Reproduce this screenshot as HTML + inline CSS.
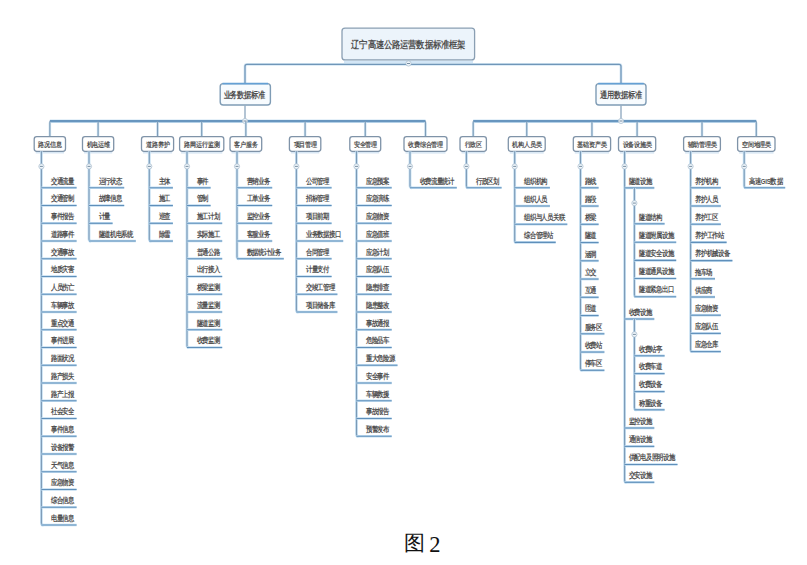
<!DOCTYPE html>
<html><head><meta charset="utf-8"><style>
html,body{margin:0;padding:0;background:#fff;width:807px;height:565px;overflow:hidden}
svg{position:absolute;left:0;top:0;font-family:"Liberation Sans",sans-serif}
.cap{position:absolute;left:0;top:0;font-family:"Liberation Serif",serif}
</style></head><body>
<svg width="807" height="565" viewBox="0 0 807 565">
<line x1="344" y1="62" x2="473" y2="62" stroke="#d3e6f6" stroke-width="3"/>
<rect x="342" y="28.1" width="132.6" height="31.8" rx="3" fill="#ecf4fb" stroke="#8a9fb3" stroke-width="1.3"/>
<g transform="translate(351.25,47.90) scale(1,1.2)"><text x="0" y="0" font-size="8" fill="#505050" font-weight="bold" textLength="114.10" lengthAdjust="spacing">辽宁高速公路运营数据标准框架</text></g>
<path d="M245,83 V66.4 Q245,64.4 247,64.4 H619 Q621,64.4 621,66.4 V83" fill="none" stroke="#d5e7f5" stroke-width="2.8"/>
<path d="M245,83 V66.4 Q245,64.4 247,64.4 H619 Q621,64.4 621,66.4 V83" fill="none" stroke="#7096b8" stroke-width="1.3"/>
<circle cx="408.5" cy="63.5" r="2.6" fill="#eef5fb" stroke="#a9bccc" stroke-width="0.7"/>
<line x1="407.0" y1="63.5" x2="410.0" y2="63.5" stroke="#6d8599" stroke-width="0.9"/>
<rect x="220.2" y="83.6" width="50.2" height="21.4" rx="3" fill="#f7fbfe" stroke="#7f9cb5" stroke-width="1.4"/>
<line x1="222.5" y1="83.6" x2="268" y2="83.6" stroke="#64a0d4" stroke-width="1.9"/>
<g transform="translate(223.50,97.90) scale(1,1.25)"><text x="0" y="0" font-size="7" fill="#505050" font-weight="bold" textLength="42.00" lengthAdjust="spacing">业务数据标准</text></g>
<rect x="596" y="83.6" width="50" height="21.4" rx="3" fill="#f7fbfe" stroke="#7f9cb5" stroke-width="1.4"/>
<line x1="598.3" y1="83.6" x2="643.7" y2="83.6" stroke="#64a0d4" stroke-width="1.9"/>
<g transform="translate(600.00,97.90) scale(1,1.25)"><text x="0" y="0" font-size="7" fill="#505050" font-weight="bold" textLength="42.00" lengthAdjust="spacing">通用数据标准</text></g>
<line x1="49.85" y1="121.2" x2="425.5" y2="121.2" stroke="#cde3f4" stroke-width="3.6"/>
<line x1="49.85" y1="121.2" x2="425.5" y2="121.2" stroke="#6896bf" stroke-width="2.2"/>
<line x1="473.2" y1="121.2" x2="756.3" y2="121.2" stroke="#cde3f4" stroke-width="3.6"/>
<line x1="473.2" y1="121.2" x2="756.3" y2="121.2" stroke="#6896bf" stroke-width="2.2"/>
<line x1="245" y1="105.5" x2="245" y2="121.2" stroke="#8aa5bd" stroke-width="1.3"/>
<line x1="621" y1="105.5" x2="621" y2="121.2" stroke="#8aa5bd" stroke-width="1.3"/>
<circle cx="245" cy="121" r="2.6" fill="#eef5fb" stroke="#a9bccc" stroke-width="0.7"/>
<line x1="243.5" y1="121" x2="246.5" y2="121" stroke="#6d8599" stroke-width="0.9"/>
<circle cx="621" cy="121" r="2.6" fill="#eef5fb" stroke="#a9bccc" stroke-width="0.7"/>
<line x1="619.5" y1="121" x2="622.5" y2="121" stroke="#6d8599" stroke-width="0.9"/>
<line x1="49.85" y1="122.4" x2="49.85" y2="136.7" stroke="#d3e6f4" stroke-width="2.6"/>
<line x1="49.85" y1="121.2" x2="49.85" y2="136.7" stroke="#7d9db9" stroke-width="1.2"/>
<line x1="35.7" y1="152.8" x2="64.0" y2="152.8" stroke="#cfe2f2" stroke-width="1.2"/>
<rect x="34.2" y="136.7" width="31.299999999999997" height="14.600000000000023" rx="2.5" fill="#ffffff" stroke="#7f93a8" stroke-width="1.3"/>
<g transform="translate(38.25,146.60) scale(1,1.15)"><text x="0" y="0" font-size="6" fill="#505050" font-weight="bold" textLength="23.20" lengthAdjust="spacing">路况信息</text></g>
<path d="M41.4,151.3 V523.05 Q41.4,525.05 43.4,525.05" fill="none" stroke="#c6e0f3" stroke-width="2.8"/>
<path d="M41.4,151.3 V523.05 Q41.4,525.05 43.4,525.05" fill="none" stroke="#7b99b5" stroke-width="1.1"/>
<circle cx="41.4" cy="166.4" r="2.6" fill="#eef5fb" stroke="#a9bccc" stroke-width="0.7"/>
<line x1="39.9" y1="166.4" x2="42.9" y2="166.4" stroke="#6d8599" stroke-width="0.9"/>
<g transform="translate(50.90,183.50) scale(1,1.25)"><text x="0" y="0" font-size="6" fill="#505050" font-weight="bold" textLength="23.20" lengthAdjust="spacing">交通流量</text></g>
<line x1="41.4" y1="187.8" x2="76.6" y2="187.8" stroke="#c2ddf1" stroke-width="2.6"/>
<line x1="41.4" y1="187.8" x2="76.6" y2="187.8" stroke="#5f8fba" stroke-width="1.1"/>
<g transform="translate(50.90,201.25) scale(1,1.25)"><text x="0" y="0" font-size="6" fill="#505050" font-weight="bold" textLength="23.20" lengthAdjust="spacing">交通管制</text></g>
<line x1="41.4" y1="205.55" x2="76.6" y2="205.55" stroke="#c2ddf1" stroke-width="2.6"/>
<line x1="41.4" y1="205.55" x2="76.6" y2="205.55" stroke="#5f8fba" stroke-width="1.1"/>
<g transform="translate(50.90,219.00) scale(1,1.25)"><text x="0" y="0" font-size="6" fill="#505050" font-weight="bold" textLength="23.20" lengthAdjust="spacing">事件报告</text></g>
<line x1="41.4" y1="223.3" x2="76.6" y2="223.3" stroke="#c2ddf1" stroke-width="2.6"/>
<line x1="41.4" y1="223.3" x2="76.6" y2="223.3" stroke="#5f8fba" stroke-width="1.1"/>
<g transform="translate(50.90,236.75) scale(1,1.25)"><text x="0" y="0" font-size="6" fill="#505050" font-weight="bold" textLength="23.20" lengthAdjust="spacing">道路事件</text></g>
<line x1="41.4" y1="241.05" x2="76.6" y2="241.05" stroke="#c2ddf1" stroke-width="2.6"/>
<line x1="41.4" y1="241.05" x2="76.6" y2="241.05" stroke="#5f8fba" stroke-width="1.1"/>
<g transform="translate(50.90,254.50) scale(1,1.25)"><text x="0" y="0" font-size="6" fill="#505050" font-weight="bold" textLength="23.20" lengthAdjust="spacing">交通事故</text></g>
<line x1="41.4" y1="258.8" x2="76.6" y2="258.8" stroke="#c2ddf1" stroke-width="2.6"/>
<line x1="41.4" y1="258.8" x2="76.6" y2="258.8" stroke="#5f8fba" stroke-width="1.1"/>
<g transform="translate(50.90,272.25) scale(1,1.25)"><text x="0" y="0" font-size="6" fill="#505050" font-weight="bold" textLength="23.20" lengthAdjust="spacing">地质灾害</text></g>
<line x1="41.4" y1="276.55" x2="76.6" y2="276.55" stroke="#c2ddf1" stroke-width="2.6"/>
<line x1="41.4" y1="276.55" x2="76.6" y2="276.55" stroke="#5f8fba" stroke-width="1.1"/>
<g transform="translate(50.90,290.00) scale(1,1.25)"><text x="0" y="0" font-size="6" fill="#505050" font-weight="bold" textLength="23.20" lengthAdjust="spacing">人员伤亡</text></g>
<line x1="41.4" y1="294.3" x2="76.6" y2="294.3" stroke="#c2ddf1" stroke-width="2.6"/>
<line x1="41.4" y1="294.3" x2="76.6" y2="294.3" stroke="#5f8fba" stroke-width="1.1"/>
<g transform="translate(50.90,307.75) scale(1,1.25)"><text x="0" y="0" font-size="6" fill="#505050" font-weight="bold" textLength="23.20" lengthAdjust="spacing">车辆事故</text></g>
<line x1="41.4" y1="312.05" x2="76.6" y2="312.05" stroke="#c2ddf1" stroke-width="2.6"/>
<line x1="41.4" y1="312.05" x2="76.6" y2="312.05" stroke="#5f8fba" stroke-width="1.1"/>
<g transform="translate(50.90,325.50) scale(1,1.25)"><text x="0" y="0" font-size="6" fill="#505050" font-weight="bold" textLength="23.20" lengthAdjust="spacing">重点交通</text></g>
<line x1="41.4" y1="329.8" x2="76.6" y2="329.8" stroke="#c2ddf1" stroke-width="2.6"/>
<line x1="41.4" y1="329.8" x2="76.6" y2="329.8" stroke="#5f8fba" stroke-width="1.1"/>
<g transform="translate(50.90,343.25) scale(1,1.25)"><text x="0" y="0" font-size="6" fill="#505050" font-weight="bold" textLength="23.20" lengthAdjust="spacing">事件进展</text></g>
<line x1="41.4" y1="347.55" x2="76.6" y2="347.55" stroke="#c2ddf1" stroke-width="2.6"/>
<line x1="41.4" y1="347.55" x2="76.6" y2="347.55" stroke="#5f8fba" stroke-width="1.1"/>
<g transform="translate(50.90,361.00) scale(1,1.25)"><text x="0" y="0" font-size="6" fill="#505050" font-weight="bold" textLength="23.20" lengthAdjust="spacing">路面状况</text></g>
<line x1="41.4" y1="365.3" x2="76.6" y2="365.3" stroke="#c2ddf1" stroke-width="2.6"/>
<line x1="41.4" y1="365.3" x2="76.6" y2="365.3" stroke="#5f8fba" stroke-width="1.1"/>
<g transform="translate(50.90,378.75) scale(1,1.25)"><text x="0" y="0" font-size="6" fill="#505050" font-weight="bold" textLength="23.20" lengthAdjust="spacing">路产损失</text></g>
<line x1="41.4" y1="383.05" x2="76.6" y2="383.05" stroke="#c2ddf1" stroke-width="2.6"/>
<line x1="41.4" y1="383.05" x2="76.6" y2="383.05" stroke="#5f8fba" stroke-width="1.1"/>
<g transform="translate(50.90,396.50) scale(1,1.25)"><text x="0" y="0" font-size="6" fill="#505050" font-weight="bold" textLength="23.20" lengthAdjust="spacing">路产上报</text></g>
<line x1="41.4" y1="400.8" x2="76.6" y2="400.8" stroke="#c2ddf1" stroke-width="2.6"/>
<line x1="41.4" y1="400.8" x2="76.6" y2="400.8" stroke="#5f8fba" stroke-width="1.1"/>
<g transform="translate(50.90,414.25) scale(1,1.25)"><text x="0" y="0" font-size="6" fill="#505050" font-weight="bold" textLength="23.20" lengthAdjust="spacing">社会安全</text></g>
<line x1="41.4" y1="418.55" x2="76.6" y2="418.55" stroke="#c2ddf1" stroke-width="2.6"/>
<line x1="41.4" y1="418.55" x2="76.6" y2="418.55" stroke="#5f8fba" stroke-width="1.1"/>
<g transform="translate(50.90,432.00) scale(1,1.25)"><text x="0" y="0" font-size="6" fill="#505050" font-weight="bold" textLength="23.20" lengthAdjust="spacing">事件信息</text></g>
<line x1="41.4" y1="436.3" x2="76.6" y2="436.3" stroke="#c2ddf1" stroke-width="2.6"/>
<line x1="41.4" y1="436.3" x2="76.6" y2="436.3" stroke="#5f8fba" stroke-width="1.1"/>
<g transform="translate(50.90,449.75) scale(1,1.25)"><text x="0" y="0" font-size="6" fill="#505050" font-weight="bold" textLength="23.20" lengthAdjust="spacing">设备报警</text></g>
<line x1="41.4" y1="454.05" x2="76.6" y2="454.05" stroke="#c2ddf1" stroke-width="2.6"/>
<line x1="41.4" y1="454.05" x2="76.6" y2="454.05" stroke="#5f8fba" stroke-width="1.1"/>
<g transform="translate(50.90,467.50) scale(1,1.25)"><text x="0" y="0" font-size="6" fill="#505050" font-weight="bold" textLength="23.20" lengthAdjust="spacing">天气信息</text></g>
<line x1="41.4" y1="471.8" x2="76.6" y2="471.8" stroke="#c2ddf1" stroke-width="2.6"/>
<line x1="41.4" y1="471.8" x2="76.6" y2="471.8" stroke="#5f8fba" stroke-width="1.1"/>
<g transform="translate(50.90,485.25) scale(1,1.25)"><text x="0" y="0" font-size="6" fill="#505050" font-weight="bold" textLength="23.20" lengthAdjust="spacing">应急物资</text></g>
<line x1="41.4" y1="489.55" x2="76.6" y2="489.55" stroke="#c2ddf1" stroke-width="2.6"/>
<line x1="41.4" y1="489.55" x2="76.6" y2="489.55" stroke="#5f8fba" stroke-width="1.1"/>
<g transform="translate(50.90,503.00) scale(1,1.25)"><text x="0" y="0" font-size="6" fill="#505050" font-weight="bold" textLength="23.20" lengthAdjust="spacing">综合信息</text></g>
<line x1="41.4" y1="507.3" x2="76.6" y2="507.3" stroke="#c2ddf1" stroke-width="2.6"/>
<line x1="41.4" y1="507.3" x2="76.6" y2="507.3" stroke="#5f8fba" stroke-width="1.1"/>
<g transform="translate(50.90,520.75) scale(1,1.25)"><text x="0" y="0" font-size="6" fill="#505050" font-weight="bold" textLength="23.20" lengthAdjust="spacing">电量信息</text></g>
<line x1="41.4" y1="525.05" x2="76.6" y2="525.05" stroke="#c2ddf1" stroke-width="2.6"/>
<line x1="41.4" y1="525.05" x2="76.6" y2="525.05" stroke="#5f8fba" stroke-width="1.1"/>
<line x1="98.1" y1="122.4" x2="98.1" y2="136.7" stroke="#d3e6f4" stroke-width="2.6"/>
<line x1="98.1" y1="121.2" x2="98.1" y2="136.7" stroke="#7d9db9" stroke-width="1.2"/>
<line x1="84.0" y1="152.8" x2="112.2" y2="152.8" stroke="#cfe2f2" stroke-width="1.2"/>
<rect x="82.5" y="136.7" width="31.200000000000003" height="14.600000000000023" rx="2.5" fill="#ffffff" stroke="#7f93a8" stroke-width="1.3"/>
<g transform="translate(86.50,146.60) scale(1,1.15)"><text x="0" y="0" font-size="6" fill="#505050" font-weight="bold" textLength="23.20" lengthAdjust="spacing">机电运维</text></g>
<path d="M89,151.3 V239.05 Q89,241.05 91,241.05" fill="none" stroke="#c6e0f3" stroke-width="2.8"/>
<path d="M89,151.3 V239.05 Q89,241.05 91,241.05" fill="none" stroke="#7b99b5" stroke-width="1.1"/>
<circle cx="89" cy="166.4" r="2.6" fill="#eef5fb" stroke="#a9bccc" stroke-width="0.7"/>
<line x1="87.5" y1="166.4" x2="90.5" y2="166.4" stroke="#6d8599" stroke-width="0.9"/>
<g transform="translate(98.50,183.50) scale(1,1.25)"><text x="0" y="0" font-size="6" fill="#505050" font-weight="bold" textLength="23.20" lengthAdjust="spacing">运行状态</text></g>
<line x1="89" y1="187.8" x2="124.2" y2="187.8" stroke="#c2ddf1" stroke-width="2.6"/>
<line x1="89" y1="187.8" x2="124.2" y2="187.8" stroke="#5f8fba" stroke-width="1.1"/>
<g transform="translate(98.50,201.25) scale(1,1.25)"><text x="0" y="0" font-size="6" fill="#505050" font-weight="bold" textLength="23.20" lengthAdjust="spacing">故障信息</text></g>
<line x1="89" y1="205.55" x2="124.2" y2="205.55" stroke="#c2ddf1" stroke-width="2.6"/>
<line x1="89" y1="205.55" x2="124.2" y2="205.55" stroke="#5f8fba" stroke-width="1.1"/>
<g transform="translate(98.50,219.00) scale(1,1.25)"><text x="0" y="0" font-size="6" fill="#505050" font-weight="bold" textLength="11.60" lengthAdjust="spacing">计量</text></g>
<line x1="89" y1="223.3" x2="112.6" y2="223.3" stroke="#c2ddf1" stroke-width="2.6"/>
<line x1="89" y1="223.3" x2="112.6" y2="223.3" stroke="#5f8fba" stroke-width="1.1"/>
<g transform="translate(98.50,236.75) scale(1,1.25)"><text x="0" y="0" font-size="6" fill="#505050" font-weight="bold" textLength="34.80" lengthAdjust="spacing">隧道机电系统</text></g>
<line x1="89" y1="241.05" x2="135.8" y2="241.05" stroke="#c2ddf1" stroke-width="2.6"/>
<line x1="89" y1="241.05" x2="135.8" y2="241.05" stroke="#5f8fba" stroke-width="1.1"/>
<line x1="157.55" y1="122.4" x2="157.55" y2="136.7" stroke="#d3e6f4" stroke-width="2.6"/>
<line x1="157.55" y1="121.2" x2="157.55" y2="136.7" stroke="#7d9db9" stroke-width="1.2"/>
<line x1="143.0" y1="152.8" x2="172.1" y2="152.8" stroke="#cfe2f2" stroke-width="1.2"/>
<rect x="141.5" y="136.7" width="32.099999999999994" height="14.600000000000023" rx="2.5" fill="#ffffff" stroke="#7f93a8" stroke-width="1.3"/>
<g transform="translate(145.95,146.60) scale(1,1.15)"><text x="0" y="0" font-size="6" fill="#505050" font-weight="bold" textLength="23.20" lengthAdjust="spacing">道路养护</text></g>
<path d="M149.3,151.3 V239.05 Q149.3,241.05 151.3,241.05" fill="none" stroke="#c6e0f3" stroke-width="2.8"/>
<path d="M149.3,151.3 V239.05 Q149.3,241.05 151.3,241.05" fill="none" stroke="#7b99b5" stroke-width="1.1"/>
<circle cx="149.3" cy="166.4" r="2.6" fill="#eef5fb" stroke="#a9bccc" stroke-width="0.7"/>
<line x1="147.8" y1="166.4" x2="150.8" y2="166.4" stroke="#6d8599" stroke-width="0.9"/>
<g transform="translate(158.80,183.50) scale(1,1.25)"><text x="0" y="0" font-size="6" fill="#505050" font-weight="bold" textLength="11.60" lengthAdjust="spacing">主体</text></g>
<line x1="149.3" y1="187.8" x2="172.9" y2="187.8" stroke="#c2ddf1" stroke-width="2.6"/>
<line x1="149.3" y1="187.8" x2="172.9" y2="187.8" stroke="#5f8fba" stroke-width="1.1"/>
<g transform="translate(158.80,201.25) scale(1,1.25)"><text x="0" y="0" font-size="6" fill="#505050" font-weight="bold" textLength="11.60" lengthAdjust="spacing">施工</text></g>
<line x1="149.3" y1="205.55" x2="172.9" y2="205.55" stroke="#c2ddf1" stroke-width="2.6"/>
<line x1="149.3" y1="205.55" x2="172.9" y2="205.55" stroke="#5f8fba" stroke-width="1.1"/>
<g transform="translate(158.80,219.00) scale(1,1.25)"><text x="0" y="0" font-size="6" fill="#505050" font-weight="bold" textLength="11.60" lengthAdjust="spacing">巡查</text></g>
<line x1="149.3" y1="223.3" x2="172.9" y2="223.3" stroke="#c2ddf1" stroke-width="2.6"/>
<line x1="149.3" y1="223.3" x2="172.9" y2="223.3" stroke="#5f8fba" stroke-width="1.1"/>
<g transform="translate(158.80,236.75) scale(1,1.25)"><text x="0" y="0" font-size="6" fill="#505050" font-weight="bold" textLength="11.60" lengthAdjust="spacing">除雪</text></g>
<line x1="149.3" y1="241.05" x2="172.9" y2="241.05" stroke="#c2ddf1" stroke-width="2.6"/>
<line x1="149.3" y1="241.05" x2="172.9" y2="241.05" stroke="#5f8fba" stroke-width="1.1"/>
<line x1="201.7" y1="122.4" x2="201.7" y2="136.7" stroke="#d3e6f4" stroke-width="2.6"/>
<line x1="201.7" y1="121.2" x2="201.7" y2="136.7" stroke="#7d9db9" stroke-width="1.2"/>
<line x1="181.1" y1="152.8" x2="222.3" y2="152.8" stroke="#cfe2f2" stroke-width="1.2"/>
<rect x="179.6" y="136.7" width="44.20000000000002" height="14.600000000000023" rx="2.5" fill="#ffffff" stroke="#7f93a8" stroke-width="1.3"/>
<g transform="translate(184.30,146.60) scale(1,1.15)"><text x="0" y="0" font-size="6" fill="#505050" font-weight="bold" textLength="34.80" lengthAdjust="spacing">路网运行监测</text></g>
<path d="M187,151.3 V345.55 Q187,347.55 189,347.55" fill="none" stroke="#c6e0f3" stroke-width="2.8"/>
<path d="M187,151.3 V345.55 Q187,347.55 189,347.55" fill="none" stroke="#7b99b5" stroke-width="1.1"/>
<circle cx="187" cy="166.4" r="2.6" fill="#eef5fb" stroke="#a9bccc" stroke-width="0.7"/>
<line x1="185.5" y1="166.4" x2="188.5" y2="166.4" stroke="#6d8599" stroke-width="0.9"/>
<g transform="translate(196.50,183.50) scale(1,1.25)"><text x="0" y="0" font-size="6" fill="#505050" font-weight="bold" textLength="11.60" lengthAdjust="spacing">事件</text></g>
<line x1="187" y1="187.8" x2="210.6" y2="187.8" stroke="#c2ddf1" stroke-width="2.6"/>
<line x1="187" y1="187.8" x2="210.6" y2="187.8" stroke="#5f8fba" stroke-width="1.1"/>
<g transform="translate(196.50,201.25) scale(1,1.25)"><text x="0" y="0" font-size="6" fill="#505050" font-weight="bold" textLength="11.60" lengthAdjust="spacing">管制</text></g>
<line x1="187" y1="205.55" x2="210.6" y2="205.55" stroke="#c2ddf1" stroke-width="2.6"/>
<line x1="187" y1="205.55" x2="210.6" y2="205.55" stroke="#5f8fba" stroke-width="1.1"/>
<g transform="translate(196.50,219.00) scale(1,1.25)"><text x="0" y="0" font-size="6" fill="#505050" font-weight="bold" textLength="23.20" lengthAdjust="spacing">施工计划</text></g>
<line x1="187" y1="223.3" x2="222.2" y2="223.3" stroke="#c2ddf1" stroke-width="2.6"/>
<line x1="187" y1="223.3" x2="222.2" y2="223.3" stroke="#5f8fba" stroke-width="1.1"/>
<g transform="translate(196.50,236.75) scale(1,1.25)"><text x="0" y="0" font-size="6" fill="#505050" font-weight="bold" textLength="23.20" lengthAdjust="spacing">实际施工</text></g>
<line x1="187" y1="241.05" x2="222.2" y2="241.05" stroke="#c2ddf1" stroke-width="2.6"/>
<line x1="187" y1="241.05" x2="222.2" y2="241.05" stroke="#5f8fba" stroke-width="1.1"/>
<g transform="translate(196.50,254.50) scale(1,1.25)"><text x="0" y="0" font-size="6" fill="#505050" font-weight="bold" textLength="23.20" lengthAdjust="spacing">普通公路</text></g>
<line x1="187" y1="258.8" x2="222.2" y2="258.8" stroke="#c2ddf1" stroke-width="2.6"/>
<line x1="187" y1="258.8" x2="222.2" y2="258.8" stroke="#5f8fba" stroke-width="1.1"/>
<g transform="translate(196.50,272.25) scale(1,1.25)"><text x="0" y="0" font-size="6" fill="#505050" font-weight="bold" textLength="23.20" lengthAdjust="spacing">出行接入</text></g>
<line x1="187" y1="276.55" x2="222.2" y2="276.55" stroke="#c2ddf1" stroke-width="2.6"/>
<line x1="187" y1="276.55" x2="222.2" y2="276.55" stroke="#5f8fba" stroke-width="1.1"/>
<g transform="translate(196.50,290.00) scale(1,1.25)"><text x="0" y="0" font-size="6" fill="#505050" font-weight="bold" textLength="23.20" lengthAdjust="spacing">桥梁监测</text></g>
<line x1="187" y1="294.3" x2="222.2" y2="294.3" stroke="#c2ddf1" stroke-width="2.6"/>
<line x1="187" y1="294.3" x2="222.2" y2="294.3" stroke="#5f8fba" stroke-width="1.1"/>
<g transform="translate(196.50,307.75) scale(1,1.25)"><text x="0" y="0" font-size="6" fill="#505050" font-weight="bold" textLength="23.20" lengthAdjust="spacing">流量监测</text></g>
<line x1="187" y1="312.05" x2="222.2" y2="312.05" stroke="#c2ddf1" stroke-width="2.6"/>
<line x1="187" y1="312.05" x2="222.2" y2="312.05" stroke="#5f8fba" stroke-width="1.1"/>
<g transform="translate(196.50,325.50) scale(1,1.25)"><text x="0" y="0" font-size="6" fill="#505050" font-weight="bold" textLength="23.20" lengthAdjust="spacing">隧道监测</text></g>
<line x1="187" y1="329.8" x2="222.2" y2="329.8" stroke="#c2ddf1" stroke-width="2.6"/>
<line x1="187" y1="329.8" x2="222.2" y2="329.8" stroke="#5f8fba" stroke-width="1.1"/>
<g transform="translate(196.50,343.25) scale(1,1.25)"><text x="0" y="0" font-size="6" fill="#505050" font-weight="bold" textLength="23.20" lengthAdjust="spacing">收费监测</text></g>
<line x1="187" y1="347.55" x2="222.2" y2="347.55" stroke="#c2ddf1" stroke-width="2.6"/>
<line x1="187" y1="347.55" x2="222.2" y2="347.55" stroke="#5f8fba" stroke-width="1.1"/>
<line x1="245.85" y1="122.4" x2="245.85" y2="136.7" stroke="#d3e6f4" stroke-width="2.6"/>
<line x1="245.85" y1="121.2" x2="245.85" y2="136.7" stroke="#7d9db9" stroke-width="1.2"/>
<line x1="231.5" y1="152.8" x2="260.2" y2="152.8" stroke="#cfe2f2" stroke-width="1.2"/>
<rect x="230" y="136.7" width="31.69999999999999" height="14.600000000000023" rx="2.5" fill="#ffffff" stroke="#7f93a8" stroke-width="1.3"/>
<g transform="translate(234.25,146.60) scale(1,1.15)"><text x="0" y="0" font-size="6" fill="#505050" font-weight="bold" textLength="23.20" lengthAdjust="spacing">客户服务</text></g>
<path d="M237,151.3 V256.8 Q237,258.8 239,258.8" fill="none" stroke="#c6e0f3" stroke-width="2.8"/>
<path d="M237,151.3 V256.8 Q237,258.8 239,258.8" fill="none" stroke="#7b99b5" stroke-width="1.1"/>
<circle cx="237" cy="166.4" r="2.6" fill="#eef5fb" stroke="#a9bccc" stroke-width="0.7"/>
<line x1="235.5" y1="166.4" x2="238.5" y2="166.4" stroke="#6d8599" stroke-width="0.9"/>
<g transform="translate(246.50,183.50) scale(1,1.25)"><text x="0" y="0" font-size="6" fill="#505050" font-weight="bold" textLength="23.20" lengthAdjust="spacing">营销业务</text></g>
<line x1="237" y1="187.8" x2="272.2" y2="187.8" stroke="#c2ddf1" stroke-width="2.6"/>
<line x1="237" y1="187.8" x2="272.2" y2="187.8" stroke="#5f8fba" stroke-width="1.1"/>
<g transform="translate(246.50,201.25) scale(1,1.25)"><text x="0" y="0" font-size="6" fill="#505050" font-weight="bold" textLength="23.20" lengthAdjust="spacing">工单业务</text></g>
<line x1="237" y1="205.55" x2="272.2" y2="205.55" stroke="#c2ddf1" stroke-width="2.6"/>
<line x1="237" y1="205.55" x2="272.2" y2="205.55" stroke="#5f8fba" stroke-width="1.1"/>
<g transform="translate(246.50,219.00) scale(1,1.25)"><text x="0" y="0" font-size="6" fill="#505050" font-weight="bold" textLength="23.20" lengthAdjust="spacing">监控业务</text></g>
<line x1="237" y1="223.3" x2="272.2" y2="223.3" stroke="#c2ddf1" stroke-width="2.6"/>
<line x1="237" y1="223.3" x2="272.2" y2="223.3" stroke="#5f8fba" stroke-width="1.1"/>
<g transform="translate(246.50,236.75) scale(1,1.25)"><text x="0" y="0" font-size="6" fill="#505050" font-weight="bold" textLength="23.20" lengthAdjust="spacing">客服业务</text></g>
<line x1="237" y1="241.05" x2="272.2" y2="241.05" stroke="#c2ddf1" stroke-width="2.6"/>
<line x1="237" y1="241.05" x2="272.2" y2="241.05" stroke="#5f8fba" stroke-width="1.1"/>
<g transform="translate(246.50,254.50) scale(1,1.25)"><text x="0" y="0" font-size="6" fill="#505050" font-weight="bold" textLength="34.80" lengthAdjust="spacing">数据统计业务</text></g>
<line x1="237" y1="258.8" x2="283.8" y2="258.8" stroke="#c2ddf1" stroke-width="2.6"/>
<line x1="237" y1="258.8" x2="283.8" y2="258.8" stroke="#5f8fba" stroke-width="1.1"/>
<line x1="305.1" y1="122.4" x2="305.1" y2="136.7" stroke="#d3e6f4" stroke-width="2.6"/>
<line x1="305.1" y1="121.2" x2="305.1" y2="136.7" stroke="#7d9db9" stroke-width="1.2"/>
<line x1="290.9" y1="152.8" x2="319.3" y2="152.8" stroke="#cfe2f2" stroke-width="1.2"/>
<rect x="289.4" y="136.7" width="31.400000000000034" height="14.600000000000023" rx="2.5" fill="#ffffff" stroke="#7f93a8" stroke-width="1.3"/>
<g transform="translate(293.50,146.60) scale(1,1.15)"><text x="0" y="0" font-size="6" fill="#505050" font-weight="bold" textLength="23.20" lengthAdjust="spacing">项目管理</text></g>
<path d="M296.4,151.3 V310.05 Q296.4,312.05 298.4,312.05" fill="none" stroke="#c6e0f3" stroke-width="2.8"/>
<path d="M296.4,151.3 V310.05 Q296.4,312.05 298.4,312.05" fill="none" stroke="#7b99b5" stroke-width="1.1"/>
<circle cx="296.4" cy="166.4" r="2.6" fill="#eef5fb" stroke="#a9bccc" stroke-width="0.7"/>
<line x1="294.9" y1="166.4" x2="297.9" y2="166.4" stroke="#6d8599" stroke-width="0.9"/>
<g transform="translate(305.90,183.50) scale(1,1.25)"><text x="0" y="0" font-size="6" fill="#505050" font-weight="bold" textLength="23.20" lengthAdjust="spacing">公司管理</text></g>
<line x1="296.4" y1="187.8" x2="331.59999999999997" y2="187.8" stroke="#c2ddf1" stroke-width="2.6"/>
<line x1="296.4" y1="187.8" x2="331.59999999999997" y2="187.8" stroke="#5f8fba" stroke-width="1.1"/>
<g transform="translate(305.90,201.25) scale(1,1.25)"><text x="0" y="0" font-size="6" fill="#505050" font-weight="bold" textLength="23.20" lengthAdjust="spacing">招标管理</text></g>
<line x1="296.4" y1="205.55" x2="331.59999999999997" y2="205.55" stroke="#c2ddf1" stroke-width="2.6"/>
<line x1="296.4" y1="205.55" x2="331.59999999999997" y2="205.55" stroke="#5f8fba" stroke-width="1.1"/>
<g transform="translate(305.90,219.00) scale(1,1.25)"><text x="0" y="0" font-size="6" fill="#505050" font-weight="bold" textLength="23.20" lengthAdjust="spacing">项目前期</text></g>
<line x1="296.4" y1="223.3" x2="331.59999999999997" y2="223.3" stroke="#c2ddf1" stroke-width="2.6"/>
<line x1="296.4" y1="223.3" x2="331.59999999999997" y2="223.3" stroke="#5f8fba" stroke-width="1.1"/>
<g transform="translate(305.90,236.75) scale(1,1.25)"><text x="0" y="0" font-size="6" fill="#505050" font-weight="bold" textLength="34.80" lengthAdjust="spacing">业务数据接口</text></g>
<line x1="296.4" y1="241.05" x2="343.2" y2="241.05" stroke="#c2ddf1" stroke-width="2.6"/>
<line x1="296.4" y1="241.05" x2="343.2" y2="241.05" stroke="#5f8fba" stroke-width="1.1"/>
<g transform="translate(305.90,254.50) scale(1,1.25)"><text x="0" y="0" font-size="6" fill="#505050" font-weight="bold" textLength="23.20" lengthAdjust="spacing">合同管理</text></g>
<line x1="296.4" y1="258.8" x2="331.59999999999997" y2="258.8" stroke="#c2ddf1" stroke-width="2.6"/>
<line x1="296.4" y1="258.8" x2="331.59999999999997" y2="258.8" stroke="#5f8fba" stroke-width="1.1"/>
<g transform="translate(305.90,272.25) scale(1,1.25)"><text x="0" y="0" font-size="6" fill="#505050" font-weight="bold" textLength="23.20" lengthAdjust="spacing">计量支付</text></g>
<line x1="296.4" y1="276.55" x2="331.59999999999997" y2="276.55" stroke="#c2ddf1" stroke-width="2.6"/>
<line x1="296.4" y1="276.55" x2="331.59999999999997" y2="276.55" stroke="#5f8fba" stroke-width="1.1"/>
<g transform="translate(305.90,290.00) scale(1,1.25)"><text x="0" y="0" font-size="6" fill="#505050" font-weight="bold" textLength="29.00" lengthAdjust="spacing">交竣工管理</text></g>
<line x1="296.4" y1="294.3" x2="337.4" y2="294.3" stroke="#c2ddf1" stroke-width="2.6"/>
<line x1="296.4" y1="294.3" x2="337.4" y2="294.3" stroke="#5f8fba" stroke-width="1.1"/>
<g transform="translate(305.90,307.75) scale(1,1.25)"><text x="0" y="0" font-size="6" fill="#505050" font-weight="bold" textLength="29.00" lengthAdjust="spacing">项目储备库</text></g>
<line x1="296.4" y1="312.05" x2="337.4" y2="312.05" stroke="#c2ddf1" stroke-width="2.6"/>
<line x1="296.4" y1="312.05" x2="337.4" y2="312.05" stroke="#5f8fba" stroke-width="1.1"/>
<line x1="365.25" y1="122.4" x2="365.25" y2="136.7" stroke="#d3e6f4" stroke-width="2.6"/>
<line x1="365.25" y1="121.2" x2="365.25" y2="136.7" stroke="#7d9db9" stroke-width="1.2"/>
<line x1="351.3" y1="152.8" x2="379.2" y2="152.8" stroke="#cfe2f2" stroke-width="1.2"/>
<rect x="349.8" y="136.7" width="30.899999999999977" height="14.600000000000023" rx="2.5" fill="#ffffff" stroke="#7f93a8" stroke-width="1.3"/>
<g transform="translate(353.65,146.60) scale(1,1.15)"><text x="0" y="0" font-size="6" fill="#505050" font-weight="bold" textLength="23.20" lengthAdjust="spacing">安全管理</text></g>
<path d="M356.5,151.3 V434.3 Q356.5,436.3 358.5,436.3" fill="none" stroke="#c6e0f3" stroke-width="2.8"/>
<path d="M356.5,151.3 V434.3 Q356.5,436.3 358.5,436.3" fill="none" stroke="#7b99b5" stroke-width="1.1"/>
<circle cx="356.5" cy="166.4" r="2.6" fill="#eef5fb" stroke="#a9bccc" stroke-width="0.7"/>
<line x1="355.0" y1="166.4" x2="358.0" y2="166.4" stroke="#6d8599" stroke-width="0.9"/>
<g transform="translate(366.00,183.50) scale(1,1.25)"><text x="0" y="0" font-size="6" fill="#505050" font-weight="bold" textLength="23.20" lengthAdjust="spacing">应急预案</text></g>
<line x1="356.5" y1="187.8" x2="391.7" y2="187.8" stroke="#c2ddf1" stroke-width="2.6"/>
<line x1="356.5" y1="187.8" x2="391.7" y2="187.8" stroke="#5f8fba" stroke-width="1.1"/>
<g transform="translate(366.00,201.25) scale(1,1.25)"><text x="0" y="0" font-size="6" fill="#505050" font-weight="bold" textLength="23.20" lengthAdjust="spacing">应急演练</text></g>
<line x1="356.5" y1="205.55" x2="391.7" y2="205.55" stroke="#c2ddf1" stroke-width="2.6"/>
<line x1="356.5" y1="205.55" x2="391.7" y2="205.55" stroke="#5f8fba" stroke-width="1.1"/>
<g transform="translate(366.00,219.00) scale(1,1.25)"><text x="0" y="0" font-size="6" fill="#505050" font-weight="bold" textLength="23.20" lengthAdjust="spacing">应急物资</text></g>
<line x1="356.5" y1="223.3" x2="391.7" y2="223.3" stroke="#c2ddf1" stroke-width="2.6"/>
<line x1="356.5" y1="223.3" x2="391.7" y2="223.3" stroke="#5f8fba" stroke-width="1.1"/>
<g transform="translate(366.00,236.75) scale(1,1.25)"><text x="0" y="0" font-size="6" fill="#505050" font-weight="bold" textLength="23.20" lengthAdjust="spacing">应急值班</text></g>
<line x1="356.5" y1="241.05" x2="391.7" y2="241.05" stroke="#c2ddf1" stroke-width="2.6"/>
<line x1="356.5" y1="241.05" x2="391.7" y2="241.05" stroke="#5f8fba" stroke-width="1.1"/>
<g transform="translate(366.00,254.50) scale(1,1.25)"><text x="0" y="0" font-size="6" fill="#505050" font-weight="bold" textLength="23.20" lengthAdjust="spacing">应急计划</text></g>
<line x1="356.5" y1="258.8" x2="391.7" y2="258.8" stroke="#c2ddf1" stroke-width="2.6"/>
<line x1="356.5" y1="258.8" x2="391.7" y2="258.8" stroke="#5f8fba" stroke-width="1.1"/>
<g transform="translate(366.00,272.25) scale(1,1.25)"><text x="0" y="0" font-size="6" fill="#505050" font-weight="bold" textLength="23.20" lengthAdjust="spacing">应急队伍</text></g>
<line x1="356.5" y1="276.55" x2="391.7" y2="276.55" stroke="#c2ddf1" stroke-width="2.6"/>
<line x1="356.5" y1="276.55" x2="391.7" y2="276.55" stroke="#5f8fba" stroke-width="1.1"/>
<g transform="translate(366.00,290.00) scale(1,1.25)"><text x="0" y="0" font-size="6" fill="#505050" font-weight="bold" textLength="23.20" lengthAdjust="spacing">隐患排查</text></g>
<line x1="356.5" y1="294.3" x2="391.7" y2="294.3" stroke="#c2ddf1" stroke-width="2.6"/>
<line x1="356.5" y1="294.3" x2="391.7" y2="294.3" stroke="#5f8fba" stroke-width="1.1"/>
<g transform="translate(366.00,307.75) scale(1,1.25)"><text x="0" y="0" font-size="6" fill="#505050" font-weight="bold" textLength="23.20" lengthAdjust="spacing">隐患整改</text></g>
<line x1="356.5" y1="312.05" x2="391.7" y2="312.05" stroke="#c2ddf1" stroke-width="2.6"/>
<line x1="356.5" y1="312.05" x2="391.7" y2="312.05" stroke="#5f8fba" stroke-width="1.1"/>
<g transform="translate(366.00,325.50) scale(1,1.25)"><text x="0" y="0" font-size="6" fill="#505050" font-weight="bold" textLength="23.20" lengthAdjust="spacing">事故通报</text></g>
<line x1="356.5" y1="329.8" x2="391.7" y2="329.8" stroke="#c2ddf1" stroke-width="2.6"/>
<line x1="356.5" y1="329.8" x2="391.7" y2="329.8" stroke="#5f8fba" stroke-width="1.1"/>
<g transform="translate(366.00,343.25) scale(1,1.25)"><text x="0" y="0" font-size="6" fill="#505050" font-weight="bold" textLength="23.20" lengthAdjust="spacing">危险品车</text></g>
<line x1="356.5" y1="347.55" x2="391.7" y2="347.55" stroke="#c2ddf1" stroke-width="2.6"/>
<line x1="356.5" y1="347.55" x2="391.7" y2="347.55" stroke="#5f8fba" stroke-width="1.1"/>
<g transform="translate(366.00,361.00) scale(1,1.25)"><text x="0" y="0" font-size="6" fill="#505050" font-weight="bold" textLength="29.00" lengthAdjust="spacing">重大危险源</text></g>
<line x1="356.5" y1="365.3" x2="397.5" y2="365.3" stroke="#c2ddf1" stroke-width="2.6"/>
<line x1="356.5" y1="365.3" x2="397.5" y2="365.3" stroke="#5f8fba" stroke-width="1.1"/>
<g transform="translate(366.00,378.75) scale(1,1.25)"><text x="0" y="0" font-size="6" fill="#505050" font-weight="bold" textLength="23.20" lengthAdjust="spacing">安全事件</text></g>
<line x1="356.5" y1="383.05" x2="391.7" y2="383.05" stroke="#c2ddf1" stroke-width="2.6"/>
<line x1="356.5" y1="383.05" x2="391.7" y2="383.05" stroke="#5f8fba" stroke-width="1.1"/>
<g transform="translate(366.00,396.50) scale(1,1.25)"><text x="0" y="0" font-size="6" fill="#505050" font-weight="bold" textLength="23.20" lengthAdjust="spacing">车辆救援</text></g>
<line x1="356.5" y1="400.8" x2="391.7" y2="400.8" stroke="#c2ddf1" stroke-width="2.6"/>
<line x1="356.5" y1="400.8" x2="391.7" y2="400.8" stroke="#5f8fba" stroke-width="1.1"/>
<g transform="translate(366.00,414.25) scale(1,1.25)"><text x="0" y="0" font-size="6" fill="#505050" font-weight="bold" textLength="23.20" lengthAdjust="spacing">事故报告</text></g>
<line x1="356.5" y1="418.55" x2="391.7" y2="418.55" stroke="#c2ddf1" stroke-width="2.6"/>
<line x1="356.5" y1="418.55" x2="391.7" y2="418.55" stroke="#5f8fba" stroke-width="1.1"/>
<g transform="translate(366.00,432.00) scale(1,1.25)"><text x="0" y="0" font-size="6" fill="#505050" font-weight="bold" textLength="23.20" lengthAdjust="spacing">预警发布</text></g>
<line x1="356.5" y1="436.3" x2="391.7" y2="436.3" stroke="#c2ddf1" stroke-width="2.6"/>
<line x1="356.5" y1="436.3" x2="391.7" y2="436.3" stroke="#5f8fba" stroke-width="1.1"/>
<line x1="425.5" y1="122.4" x2="425.5" y2="136.7" stroke="#d3e6f4" stroke-width="2.6"/>
<line x1="425.5" y1="121.2" x2="425.5" y2="136.7" stroke="#7d9db9" stroke-width="1.2"/>
<line x1="405.5" y1="152.8" x2="445.5" y2="152.8" stroke="#cfe2f2" stroke-width="1.2"/>
<rect x="404" y="136.7" width="43" height="14.600000000000023" rx="2.5" fill="#ffffff" stroke="#7f93a8" stroke-width="1.3"/>
<g transform="translate(408.10,146.60) scale(1,1.15)"><text x="0" y="0" font-size="6" fill="#505050" font-weight="bold" textLength="34.80" lengthAdjust="spacing">收费综合管理</text></g>
<path d="M410,151.3 V185.8 Q410,187.8 412,187.8" fill="none" stroke="#c6e0f3" stroke-width="2.8"/>
<path d="M410,151.3 V185.8 Q410,187.8 412,187.8" fill="none" stroke="#7b99b5" stroke-width="1.1"/>
<circle cx="410" cy="166.4" r="2.6" fill="#eef5fb" stroke="#a9bccc" stroke-width="0.7"/>
<line x1="408.5" y1="166.4" x2="411.5" y2="166.4" stroke="#6d8599" stroke-width="0.9"/>
<g transform="translate(419.50,183.50) scale(1,1.25)"><text x="0" y="0" font-size="6" fill="#505050" font-weight="bold" textLength="34.80" lengthAdjust="spacing">收费流量统计</text></g>
<line x1="410" y1="187.8" x2="456.8" y2="187.8" stroke="#c2ddf1" stroke-width="2.6"/>
<line x1="410" y1="187.8" x2="456.8" y2="187.8" stroke="#5f8fba" stroke-width="1.1"/>
<line x1="473.2" y1="122.4" x2="473.2" y2="136.7" stroke="#d3e6f4" stroke-width="2.6"/>
<line x1="473.2" y1="121.2" x2="473.2" y2="136.7" stroke="#7d9db9" stroke-width="1.2"/>
<line x1="461.5" y1="152.8" x2="484.9" y2="152.8" stroke="#cfe2f2" stroke-width="1.2"/>
<rect x="460" y="136.7" width="26.399999999999977" height="14.600000000000023" rx="2.5" fill="#ffffff" stroke="#7f93a8" stroke-width="1.3"/>
<g transform="translate(464.50,146.60) scale(1,1.15)"><text x="0" y="0" font-size="6" fill="#505050" font-weight="bold" textLength="17.40" lengthAdjust="spacing">行政区</text></g>
<path d="M466.4,151.3 V185.8 Q466.4,187.8 468.4,187.8" fill="none" stroke="#c6e0f3" stroke-width="2.8"/>
<path d="M466.4,151.3 V185.8 Q466.4,187.8 468.4,187.8" fill="none" stroke="#7b99b5" stroke-width="1.1"/>
<circle cx="466.4" cy="166.4" r="2.6" fill="#eef5fb" stroke="#a9bccc" stroke-width="0.7"/>
<line x1="464.9" y1="166.4" x2="467.9" y2="166.4" stroke="#6d8599" stroke-width="0.9"/>
<g transform="translate(475.90,183.50) scale(1,1.25)"><text x="0" y="0" font-size="6" fill="#505050" font-weight="bold" textLength="23.20" lengthAdjust="spacing">行政区划</text></g>
<line x1="466.4" y1="187.8" x2="501.59999999999997" y2="187.8" stroke="#c2ddf1" stroke-width="2.6"/>
<line x1="466.4" y1="187.8" x2="501.59999999999997" y2="187.8" stroke="#5f8fba" stroke-width="1.1"/>
<line x1="526.75" y1="122.4" x2="526.75" y2="136.7" stroke="#d3e6f4" stroke-width="2.6"/>
<line x1="526.75" y1="121.2" x2="526.75" y2="136.7" stroke="#7d9db9" stroke-width="1.2"/>
<line x1="509.8" y1="152.8" x2="543.7" y2="152.8" stroke="#cfe2f2" stroke-width="1.2"/>
<rect x="508.3" y="136.7" width="36.900000000000034" height="14.600000000000023" rx="2.5" fill="#ffffff" stroke="#7f93a8" stroke-width="1.3"/>
<g transform="translate(512.25,146.60) scale(1,1.15)"><text x="0" y="0" font-size="6" fill="#505050" font-weight="bold" textLength="29.00" lengthAdjust="spacing">机构人员类</text></g>
<path d="M514.7,151.3 V240.4 Q514.7,242.4 516.7,242.4" fill="none" stroke="#c6e0f3" stroke-width="2.8"/>
<path d="M514.7,151.3 V240.4 Q514.7,242.4 516.7,242.4" fill="none" stroke="#7b99b5" stroke-width="1.1"/>
<circle cx="514.7" cy="166.4" r="2.6" fill="#eef5fb" stroke="#a9bccc" stroke-width="0.7"/>
<line x1="513.2" y1="166.4" x2="516.2" y2="166.4" stroke="#6d8599" stroke-width="0.9"/>
<g transform="translate(524.20,183.50) scale(1,1.25)"><text x="0" y="0" font-size="6" fill="#505050" font-weight="bold" textLength="23.20" lengthAdjust="spacing">组织机构</text></g>
<line x1="514.7" y1="187.8" x2="549.9000000000001" y2="187.8" stroke="#c2ddf1" stroke-width="2.6"/>
<line x1="514.7" y1="187.8" x2="549.9000000000001" y2="187.8" stroke="#5f8fba" stroke-width="1.1"/>
<g transform="translate(524.20,201.70) scale(1,1.25)"><text x="0" y="0" font-size="6" fill="#505050" font-weight="bold" textLength="23.20" lengthAdjust="spacing">组织人员</text></g>
<line x1="514.7" y1="206.0" x2="549.9000000000001" y2="206.0" stroke="#c2ddf1" stroke-width="2.6"/>
<line x1="514.7" y1="206.0" x2="549.9000000000001" y2="206.0" stroke="#5f8fba" stroke-width="1.1"/>
<g transform="translate(524.20,219.90) scale(1,1.25)"><text x="0" y="0" font-size="6" fill="#505050" font-weight="bold" textLength="40.60" lengthAdjust="spacing">组织与人员关联</text></g>
<line x1="514.7" y1="224.20000000000002" x2="567.3000000000001" y2="224.20000000000002" stroke="#c2ddf1" stroke-width="2.6"/>
<line x1="514.7" y1="224.20000000000002" x2="567.3000000000001" y2="224.20000000000002" stroke="#5f8fba" stroke-width="1.1"/>
<g transform="translate(524.20,238.10) scale(1,1.25)"><text x="0" y="0" font-size="6" fill="#505050" font-weight="bold" textLength="29.00" lengthAdjust="spacing">综合管理站</text></g>
<line x1="514.7" y1="242.4" x2="555.7" y2="242.4" stroke="#c2ddf1" stroke-width="2.6"/>
<line x1="514.7" y1="242.4" x2="555.7" y2="242.4" stroke="#5f8fba" stroke-width="1.1"/>
<line x1="591.95" y1="122.4" x2="591.95" y2="136.7" stroke="#d3e6f4" stroke-width="2.6"/>
<line x1="591.95" y1="121.2" x2="591.95" y2="136.7" stroke="#7d9db9" stroke-width="1.2"/>
<line x1="574.8" y1="152.8" x2="609.1" y2="152.8" stroke="#cfe2f2" stroke-width="1.2"/>
<rect x="573.3" y="136.7" width="37.30000000000007" height="14.600000000000023" rx="2.5" fill="#ffffff" stroke="#7f93a8" stroke-width="1.3"/>
<g transform="translate(577.45,146.60) scale(1,1.15)"><text x="0" y="0" font-size="6" fill="#505050" font-weight="bold" textLength="29.00" lengthAdjust="spacing">基础资产类</text></g>
<path d="M580.5,151.3 V368.3 Q580.5,370.3 582.5,370.3" fill="none" stroke="#c6e0f3" stroke-width="2.8"/>
<path d="M580.5,151.3 V368.3 Q580.5,370.3 582.5,370.3" fill="none" stroke="#7b99b5" stroke-width="1.1"/>
<circle cx="580.5" cy="166.4" r="2.6" fill="#eef5fb" stroke="#a9bccc" stroke-width="0.7"/>
<line x1="579.0" y1="166.4" x2="582.0" y2="166.4" stroke="#6d8599" stroke-width="0.9"/>
<g transform="translate(584.50,183.50) scale(1,1.25)"><text x="0" y="0" font-size="6" fill="#505050" font-weight="bold" textLength="11.60" lengthAdjust="spacing">路线</text></g>
<line x1="580.5" y1="187.8" x2="598.6" y2="187.8" stroke="#c2ddf1" stroke-width="2.6"/>
<line x1="580.5" y1="187.8" x2="598.6" y2="187.8" stroke="#5f8fba" stroke-width="1.1"/>
<g transform="translate(584.50,201.75) scale(1,1.25)"><text x="0" y="0" font-size="6" fill="#505050" font-weight="bold" textLength="11.60" lengthAdjust="spacing">路段</text></g>
<line x1="580.5" y1="206.05" x2="598.6" y2="206.05" stroke="#c2ddf1" stroke-width="2.6"/>
<line x1="580.5" y1="206.05" x2="598.6" y2="206.05" stroke="#5f8fba" stroke-width="1.1"/>
<g transform="translate(584.50,220.00) scale(1,1.25)"><text x="0" y="0" font-size="6" fill="#505050" font-weight="bold" textLength="11.60" lengthAdjust="spacing">桥梁</text></g>
<line x1="580.5" y1="224.3" x2="598.6" y2="224.3" stroke="#c2ddf1" stroke-width="2.6"/>
<line x1="580.5" y1="224.3" x2="598.6" y2="224.3" stroke="#5f8fba" stroke-width="1.1"/>
<g transform="translate(584.50,238.25) scale(1,1.25)"><text x="0" y="0" font-size="6" fill="#505050" font-weight="bold" textLength="11.60" lengthAdjust="spacing">隧道</text></g>
<line x1="580.5" y1="242.55" x2="598.6" y2="242.55" stroke="#c2ddf1" stroke-width="2.6"/>
<line x1="580.5" y1="242.55" x2="598.6" y2="242.55" stroke="#5f8fba" stroke-width="1.1"/>
<g transform="translate(584.50,256.50) scale(1,1.25)"><text x="0" y="0" font-size="6" fill="#505050" font-weight="bold" textLength="11.60" lengthAdjust="spacing">涵洞</text></g>
<line x1="580.5" y1="260.8" x2="598.6" y2="260.8" stroke="#c2ddf1" stroke-width="2.6"/>
<line x1="580.5" y1="260.8" x2="598.6" y2="260.8" stroke="#5f8fba" stroke-width="1.1"/>
<g transform="translate(584.50,274.75) scale(1,1.25)"><text x="0" y="0" font-size="6" fill="#505050" font-weight="bold" textLength="11.60" lengthAdjust="spacing">立交</text></g>
<line x1="580.5" y1="279.05" x2="598.6" y2="279.05" stroke="#c2ddf1" stroke-width="2.6"/>
<line x1="580.5" y1="279.05" x2="598.6" y2="279.05" stroke="#5f8fba" stroke-width="1.1"/>
<g transform="translate(584.50,293.00) scale(1,1.25)"><text x="0" y="0" font-size="6" fill="#505050" font-weight="bold" textLength="11.60" lengthAdjust="spacing">互通</text></g>
<line x1="580.5" y1="297.3" x2="598.6" y2="297.3" stroke="#c2ddf1" stroke-width="2.6"/>
<line x1="580.5" y1="297.3" x2="598.6" y2="297.3" stroke="#5f8fba" stroke-width="1.1"/>
<g transform="translate(584.50,311.25) scale(1,1.25)"><text x="0" y="0" font-size="6" fill="#505050" font-weight="bold" textLength="11.60" lengthAdjust="spacing">匝道</text></g>
<line x1="580.5" y1="315.55" x2="598.6" y2="315.55" stroke="#c2ddf1" stroke-width="2.6"/>
<line x1="580.5" y1="315.55" x2="598.6" y2="315.55" stroke="#5f8fba" stroke-width="1.1"/>
<g transform="translate(584.50,329.50) scale(1,1.25)"><text x="0" y="0" font-size="6" fill="#505050" font-weight="bold" textLength="17.40" lengthAdjust="spacing">服务区</text></g>
<line x1="580.5" y1="333.8" x2="604.4" y2="333.8" stroke="#c2ddf1" stroke-width="2.6"/>
<line x1="580.5" y1="333.8" x2="604.4" y2="333.8" stroke="#5f8fba" stroke-width="1.1"/>
<g transform="translate(584.50,347.75) scale(1,1.25)"><text x="0" y="0" font-size="6" fill="#505050" font-weight="bold" textLength="17.40" lengthAdjust="spacing">收费站</text></g>
<line x1="580.5" y1="352.05" x2="604.4" y2="352.05" stroke="#c2ddf1" stroke-width="2.6"/>
<line x1="580.5" y1="352.05" x2="604.4" y2="352.05" stroke="#5f8fba" stroke-width="1.1"/>
<g transform="translate(584.50,366.00) scale(1,1.25)"><text x="0" y="0" font-size="6" fill="#505050" font-weight="bold" textLength="17.40" lengthAdjust="spacing">停车区</text></g>
<line x1="580.5" y1="370.3" x2="604.4" y2="370.3" stroke="#c2ddf1" stroke-width="2.6"/>
<line x1="580.5" y1="370.3" x2="604.4" y2="370.3" stroke="#5f8fba" stroke-width="1.1"/>
<line x1="637.1" y1="122.4" x2="637.1" y2="136.7" stroke="#d3e6f4" stroke-width="2.6"/>
<line x1="637.1" y1="121.2" x2="637.1" y2="136.7" stroke="#7d9db9" stroke-width="1.2"/>
<line x1="620.0" y1="152.8" x2="654.2" y2="152.8" stroke="#cfe2f2" stroke-width="1.2"/>
<rect x="618.5" y="136.7" width="37.200000000000045" height="14.600000000000023" rx="2.5" fill="#ffffff" stroke="#7f93a8" stroke-width="1.3"/>
<g transform="translate(622.60,146.60) scale(1,1.15)"><text x="0" y="0" font-size="6" fill="#505050" font-weight="bold" textLength="29.00" lengthAdjust="spacing">设备设施类</text></g>
<path d="M624.6,151.3 V480.3 Q624.6,482.3 626.6,482.3" fill="none" stroke="#c6e0f3" stroke-width="2.8"/>
<path d="M624.6,151.3 V480.3 Q624.6,482.3 626.6,482.3" fill="none" stroke="#7b99b5" stroke-width="1.1"/>
<circle cx="624.6" cy="166.4" r="2.6" fill="#eef5fb" stroke="#a9bccc" stroke-width="0.7"/>
<line x1="623.1" y1="166.4" x2="626.1" y2="166.4" stroke="#6d8599" stroke-width="0.9"/>
<g transform="translate(628.60,183.60) scale(1,1.25)"><text x="0" y="0" font-size="6" fill="#505050" font-weight="bold" textLength="23.20" lengthAdjust="spacing">隧道设施</text></g>
<line x1="624.6" y1="187.9" x2="654.3000000000001" y2="187.9" stroke="#c2ddf1" stroke-width="2.6"/>
<line x1="624.6" y1="187.9" x2="654.3000000000001" y2="187.9" stroke="#5f8fba" stroke-width="1.1"/>
<g transform="translate(628.60,314.70) scale(1,1.25)"><text x="0" y="0" font-size="6" fill="#505050" font-weight="bold" textLength="23.20" lengthAdjust="spacing">收费设施</text></g>
<line x1="624.6" y1="319.0" x2="654.3000000000001" y2="319.0" stroke="#c2ddf1" stroke-width="2.6"/>
<line x1="624.6" y1="319.0" x2="654.3000000000001" y2="319.0" stroke="#5f8fba" stroke-width="1.1"/>
<g transform="translate(628.60,423.70) scale(1,1.25)"><text x="0" y="0" font-size="6" fill="#505050" font-weight="bold" textLength="23.20" lengthAdjust="spacing">监控设施</text></g>
<line x1="624.6" y1="428.0" x2="654.3000000000001" y2="428.0" stroke="#c2ddf1" stroke-width="2.6"/>
<line x1="624.6" y1="428.0" x2="654.3000000000001" y2="428.0" stroke="#5f8fba" stroke-width="1.1"/>
<g transform="translate(628.60,442.10) scale(1,1.25)"><text x="0" y="0" font-size="6" fill="#505050" font-weight="bold" textLength="23.20" lengthAdjust="spacing">通信设施</text></g>
<line x1="624.6" y1="446.4" x2="654.3000000000001" y2="446.4" stroke="#c2ddf1" stroke-width="2.6"/>
<line x1="624.6" y1="446.4" x2="654.3000000000001" y2="446.4" stroke="#5f8fba" stroke-width="1.1"/>
<g transform="translate(628.60,460.20) scale(1,1.25)"><text x="0" y="0" font-size="6" fill="#505050" font-weight="bold" textLength="46.40" lengthAdjust="spacing">供配电及照明设施</text></g>
<line x1="624.6" y1="464.5" x2="677.5" y2="464.5" stroke="#c2ddf1" stroke-width="2.6"/>
<line x1="624.6" y1="464.5" x2="677.5" y2="464.5" stroke="#5f8fba" stroke-width="1.1"/>
<g transform="translate(628.60,478.00) scale(1,1.25)"><text x="0" y="0" font-size="6" fill="#505050" font-weight="bold" textLength="23.20" lengthAdjust="spacing">交安设施</text></g>
<line x1="624.6" y1="482.3" x2="654.3000000000001" y2="482.3" stroke="#c2ddf1" stroke-width="2.6"/>
<line x1="624.6" y1="482.3" x2="654.3000000000001" y2="482.3" stroke="#5f8fba" stroke-width="1.1"/>
<path d="M634.4,187.9 V294.7 Q634.4,296.7 636.4,296.7" fill="none" stroke="#c6e0f3" stroke-width="2.8"/>
<path d="M634.4,187.9 V294.7 Q634.4,296.7 636.4,296.7" fill="none" stroke="#7b99b5" stroke-width="1.1"/>
<circle cx="634.4" cy="203.1" r="2.6" fill="#eef5fb" stroke="#a9bccc" stroke-width="0.7"/>
<line x1="632.9" y1="203.1" x2="635.9" y2="203.1" stroke="#6d8599" stroke-width="0.9"/>
<g transform="translate(638.90,219.50) scale(1,1.25)"><text x="0" y="0" font-size="6" fill="#505050" font-weight="bold" textLength="23.20" lengthAdjust="spacing">隧道结构</text></g>
<line x1="634.4" y1="223.8" x2="664.6" y2="223.8" stroke="#c2ddf1" stroke-width="2.6"/>
<line x1="634.4" y1="223.8" x2="664.6" y2="223.8" stroke="#5f8fba" stroke-width="1.1"/>
<g transform="translate(638.90,237.90) scale(1,1.25)"><text x="0" y="0" font-size="6" fill="#505050" font-weight="bold" textLength="34.80" lengthAdjust="spacing">隧道附属设施</text></g>
<line x1="634.4" y1="242.2" x2="676.1999999999999" y2="242.2" stroke="#c2ddf1" stroke-width="2.6"/>
<line x1="634.4" y1="242.2" x2="676.1999999999999" y2="242.2" stroke="#5f8fba" stroke-width="1.1"/>
<g transform="translate(638.90,256.10) scale(1,1.25)"><text x="0" y="0" font-size="6" fill="#505050" font-weight="bold" textLength="34.80" lengthAdjust="spacing">隧道安全设施</text></g>
<line x1="634.4" y1="260.4" x2="676.1999999999999" y2="260.4" stroke="#c2ddf1" stroke-width="2.6"/>
<line x1="634.4" y1="260.4" x2="676.1999999999999" y2="260.4" stroke="#5f8fba" stroke-width="1.1"/>
<g transform="translate(638.90,274.20) scale(1,1.25)"><text x="0" y="0" font-size="6" fill="#505050" font-weight="bold" textLength="34.80" lengthAdjust="spacing">隧道通风设施</text></g>
<line x1="634.4" y1="278.5" x2="676.1999999999999" y2="278.5" stroke="#c2ddf1" stroke-width="2.6"/>
<line x1="634.4" y1="278.5" x2="676.1999999999999" y2="278.5" stroke="#5f8fba" stroke-width="1.1"/>
<g transform="translate(638.90,292.40) scale(1,1.25)"><text x="0" y="0" font-size="6" fill="#505050" font-weight="bold" textLength="34.80" lengthAdjust="spacing">隧道紧急出口</text></g>
<line x1="634.4" y1="296.7" x2="676.1999999999999" y2="296.7" stroke="#c2ddf1" stroke-width="2.6"/>
<line x1="634.4" y1="296.7" x2="676.1999999999999" y2="296.7" stroke="#5f8fba" stroke-width="1.1"/>
<path d="M634.4,319.0 V407.8 Q634.4,409.8 636.4,409.8" fill="none" stroke="#c6e0f3" stroke-width="2.8"/>
<path d="M634.4,319.0 V407.8 Q634.4,409.8 636.4,409.8" fill="none" stroke="#7b99b5" stroke-width="1.1"/>
<circle cx="634.4" cy="334.4" r="2.6" fill="#eef5fb" stroke="#a9bccc" stroke-width="0.7"/>
<line x1="632.9" y1="334.4" x2="635.9" y2="334.4" stroke="#6d8599" stroke-width="0.9"/>
<g transform="translate(638.90,351.50) scale(1,1.25)"><text x="0" y="0" font-size="6" fill="#505050" font-weight="bold" textLength="23.20" lengthAdjust="spacing">收费站亭</text></g>
<line x1="634.4" y1="355.8" x2="664.6" y2="355.8" stroke="#c2ddf1" stroke-width="2.6"/>
<line x1="634.4" y1="355.8" x2="664.6" y2="355.8" stroke="#5f8fba" stroke-width="1.1"/>
<g transform="translate(638.90,369.30) scale(1,1.25)"><text x="0" y="0" font-size="6" fill="#505050" font-weight="bold" textLength="23.20" lengthAdjust="spacing">收费车道</text></g>
<line x1="634.4" y1="373.6" x2="664.6" y2="373.6" stroke="#c2ddf1" stroke-width="2.6"/>
<line x1="634.4" y1="373.6" x2="664.6" y2="373.6" stroke="#5f8fba" stroke-width="1.1"/>
<g transform="translate(638.90,387.30) scale(1,1.25)"><text x="0" y="0" font-size="6" fill="#505050" font-weight="bold" textLength="23.20" lengthAdjust="spacing">收费设备</text></g>
<line x1="634.4" y1="391.6" x2="664.6" y2="391.6" stroke="#c2ddf1" stroke-width="2.6"/>
<line x1="634.4" y1="391.6" x2="664.6" y2="391.6" stroke="#5f8fba" stroke-width="1.1"/>
<g transform="translate(638.90,405.50) scale(1,1.25)"><text x="0" y="0" font-size="6" fill="#505050" font-weight="bold" textLength="23.20" lengthAdjust="spacing">称重设备</text></g>
<line x1="634.4" y1="409.8" x2="664.6" y2="409.8" stroke="#c2ddf1" stroke-width="2.6"/>
<line x1="634.4" y1="409.8" x2="664.6" y2="409.8" stroke="#5f8fba" stroke-width="1.1"/>
<line x1="702.0" y1="122.4" x2="702.0" y2="136.7" stroke="#d3e6f4" stroke-width="2.6"/>
<line x1="702.0" y1="121.2" x2="702.0" y2="136.7" stroke="#7d9db9" stroke-width="1.2"/>
<line x1="685.1" y1="152.8" x2="718.9" y2="152.8" stroke="#cfe2f2" stroke-width="1.2"/>
<rect x="683.6" y="136.7" width="36.799999999999955" height="14.600000000000023" rx="2.5" fill="#ffffff" stroke="#7f93a8" stroke-width="1.3"/>
<g transform="translate(687.50,146.60) scale(1,1.15)"><text x="0" y="0" font-size="6" fill="#505050" font-weight="bold" textLength="29.00" lengthAdjust="spacing">辅助管理类</text></g>
<path d="M690.6,151.3 V349.6 Q690.6,351.6 692.6,351.6" fill="none" stroke="#c6e0f3" stroke-width="2.8"/>
<path d="M690.6,151.3 V349.6 Q690.6,351.6 692.6,351.6" fill="none" stroke="#7b99b5" stroke-width="1.1"/>
<circle cx="690.6" cy="166.4" r="2.6" fill="#eef5fb" stroke="#a9bccc" stroke-width="0.7"/>
<line x1="689.1" y1="166.4" x2="692.1" y2="166.4" stroke="#6d8599" stroke-width="0.9"/>
<g transform="translate(695.10,183.50) scale(1,1.25)"><text x="0" y="0" font-size="6" fill="#505050" font-weight="bold" textLength="23.20" lengthAdjust="spacing">养护机构</text></g>
<line x1="690.6" y1="187.8" x2="720.8000000000001" y2="187.8" stroke="#c2ddf1" stroke-width="2.6"/>
<line x1="690.6" y1="187.8" x2="720.8000000000001" y2="187.8" stroke="#5f8fba" stroke-width="1.1"/>
<g transform="translate(695.10,201.70) scale(1,1.25)"><text x="0" y="0" font-size="6" fill="#505050" font-weight="bold" textLength="23.20" lengthAdjust="spacing">养护人员</text></g>
<line x1="690.6" y1="206.0" x2="720.8000000000001" y2="206.0" stroke="#c2ddf1" stroke-width="2.6"/>
<line x1="690.6" y1="206.0" x2="720.8000000000001" y2="206.0" stroke="#5f8fba" stroke-width="1.1"/>
<g transform="translate(695.10,219.90) scale(1,1.25)"><text x="0" y="0" font-size="6" fill="#505050" font-weight="bold" textLength="23.20" lengthAdjust="spacing">养护工区</text></g>
<line x1="690.6" y1="224.20000000000002" x2="720.8000000000001" y2="224.20000000000002" stroke="#c2ddf1" stroke-width="2.6"/>
<line x1="690.6" y1="224.20000000000002" x2="720.8000000000001" y2="224.20000000000002" stroke="#5f8fba" stroke-width="1.1"/>
<g transform="translate(695.10,238.10) scale(1,1.25)"><text x="0" y="0" font-size="6" fill="#505050" font-weight="bold" textLength="29.00" lengthAdjust="spacing">养护工作站</text></g>
<line x1="690.6" y1="242.4" x2="726.6" y2="242.4" stroke="#c2ddf1" stroke-width="2.6"/>
<line x1="690.6" y1="242.4" x2="726.6" y2="242.4" stroke="#5f8fba" stroke-width="1.1"/>
<g transform="translate(695.10,256.30) scale(1,1.25)"><text x="0" y="0" font-size="6" fill="#505050" font-weight="bold" textLength="34.80" lengthAdjust="spacing">养护机械设备</text></g>
<line x1="690.6" y1="260.6" x2="732.4" y2="260.6" stroke="#c2ddf1" stroke-width="2.6"/>
<line x1="690.6" y1="260.6" x2="732.4" y2="260.6" stroke="#5f8fba" stroke-width="1.1"/>
<g transform="translate(695.10,274.50) scale(1,1.25)"><text x="0" y="0" font-size="6" fill="#505050" font-weight="bold" textLength="17.40" lengthAdjust="spacing">拖车场</text></g>
<line x1="690.6" y1="278.8" x2="715.0" y2="278.8" stroke="#c2ddf1" stroke-width="2.6"/>
<line x1="690.6" y1="278.8" x2="715.0" y2="278.8" stroke="#5f8fba" stroke-width="1.1"/>
<g transform="translate(695.10,292.70) scale(1,1.25)"><text x="0" y="0" font-size="6" fill="#505050" font-weight="bold" textLength="17.40" lengthAdjust="spacing">供应商</text></g>
<line x1="690.6" y1="297.0" x2="715.0" y2="297.0" stroke="#c2ddf1" stroke-width="2.6"/>
<line x1="690.6" y1="297.0" x2="715.0" y2="297.0" stroke="#5f8fba" stroke-width="1.1"/>
<g transform="translate(695.10,310.90) scale(1,1.25)"><text x="0" y="0" font-size="6" fill="#505050" font-weight="bold" textLength="23.20" lengthAdjust="spacing">应急物资</text></g>
<line x1="690.6" y1="315.2" x2="720.8000000000001" y2="315.2" stroke="#c2ddf1" stroke-width="2.6"/>
<line x1="690.6" y1="315.2" x2="720.8000000000001" y2="315.2" stroke="#5f8fba" stroke-width="1.1"/>
<g transform="translate(695.10,329.10) scale(1,1.25)"><text x="0" y="0" font-size="6" fill="#505050" font-weight="bold" textLength="23.20" lengthAdjust="spacing">应急队伍</text></g>
<line x1="690.6" y1="333.4" x2="720.8000000000001" y2="333.4" stroke="#c2ddf1" stroke-width="2.6"/>
<line x1="690.6" y1="333.4" x2="720.8000000000001" y2="333.4" stroke="#5f8fba" stroke-width="1.1"/>
<g transform="translate(695.10,347.30) scale(1,1.25)"><text x="0" y="0" font-size="6" fill="#505050" font-weight="bold" textLength="23.20" lengthAdjust="spacing">应急仓库</text></g>
<line x1="690.6" y1="351.6" x2="720.8000000000001" y2="351.6" stroke="#c2ddf1" stroke-width="2.6"/>
<line x1="690.6" y1="351.6" x2="720.8000000000001" y2="351.6" stroke="#5f8fba" stroke-width="1.1"/>
<line x1="756.3" y1="122.4" x2="756.3" y2="136.7" stroke="#d3e6f4" stroke-width="2.6"/>
<line x1="756.3" y1="121.2" x2="756.3" y2="136.7" stroke="#7d9db9" stroke-width="1.2"/>
<line x1="739.1" y1="152.8" x2="773.5" y2="152.8" stroke="#cfe2f2" stroke-width="1.2"/>
<rect x="737.6" y="136.7" width="37.39999999999998" height="14.600000000000023" rx="2.5" fill="#ffffff" stroke="#7f93a8" stroke-width="1.3"/>
<g transform="translate(741.80,146.60) scale(1,1.15)"><text x="0" y="0" font-size="6" fill="#505050" font-weight="bold" textLength="29.00" lengthAdjust="spacing">空间地理类</text></g>
<path d="M744.2,151.3 V185.8 Q744.2,187.8 746.2,187.8" fill="none" stroke="#c6e0f3" stroke-width="2.8"/>
<path d="M744.2,151.3 V185.8 Q744.2,187.8 746.2,187.8" fill="none" stroke="#7b99b5" stroke-width="1.1"/>
<circle cx="744.2" cy="166.4" r="2.6" fill="#eef5fb" stroke="#a9bccc" stroke-width="0.7"/>
<line x1="742.7" y1="166.4" x2="745.7" y2="166.4" stroke="#6d8599" stroke-width="0.9"/>
<g transform="translate(748.70,183.50) scale(1,1.25)"><text x="0" y="0" font-size="6" fill="#505050" font-weight="bold" textLength="33.99" lengthAdjust="spacing">高速GIS数据</text></g>
<line x1="744.2" y1="187.8" x2="785.1880000000001" y2="187.8" stroke="#c2ddf1" stroke-width="2.6"/>
<line x1="744.2" y1="187.8" x2="785.1880000000001" y2="187.8" stroke="#5f8fba" stroke-width="1.1"/>
<text x="403.5" y="550" font-size="21" font-family="Liberation Serif, serif" fill="#111">图</text><text x="429.3" y="552.3" font-size="22.5" font-family="Liberation Serif, serif" fill="#111">2</text>
</svg>
</body></html>
